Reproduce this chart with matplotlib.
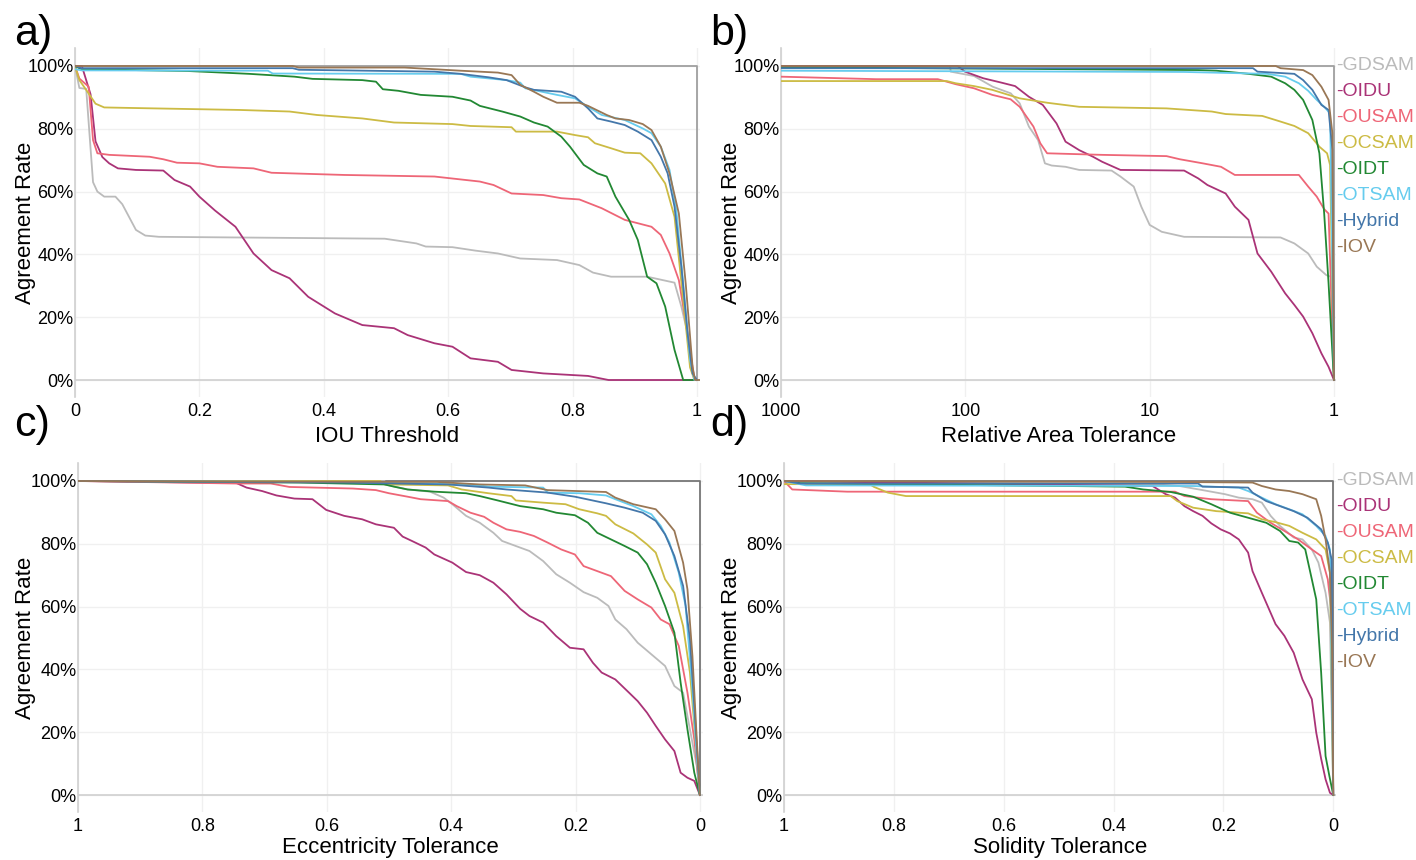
import matplotlib
matplotlib.use("Agg")
import matplotlib.pyplot as plt
import matplotlib.transforms as mtransforms
from matplotlib.ticker import FixedLocator, NullLocator

plt.rcParams['font.family'] = ['Liberation Sans', 'DejaVu Sans']

names = ["GDSAM", "OIDU", "OUSAM", "OCSAM", "OIDT", "OTSAM", "Hybrid", "IOV"]
colors = ["#BBBBBB", "#AA3377", "#EE6677", "#CCBB44", "#228833", "#66CCEE", "#4477AA", "#997755"]

# ---------------- a) IOU threshold ----------------
a_gdsam_x = [0, 0.007, 0.018, 0.029, 0.036, 0.047, 0.065, 0.076, 0.098, 0.113, 0.135, 0.498, 0.549, 0.564, 0.607, 0.644, 0.68, 0.716, 0.775, 0.811, 0.833, 0.862, 0.92, 0.964, 0.975, 0.985, 0.996, 1.0]
a_gdsam_y = [100, 93, 92.7, 63, 60, 58.4, 58.4, 56, 47.8, 46, 45.6, 45, 43.5, 42.5, 42.3, 41.2, 40.3, 38.7, 38.2, 36.6, 34.2, 32.9, 32.9, 31, 23.4, 14.9, 0, 0]
a_oidu_x = [0, 0.011, 0.025, 0.033, 0.044, 0.055, 0.069, 0.098, 0.142, 0.16, 0.185, 0.2, 0.225, 0.258, 0.287, 0.316, 0.345, 0.375, 0.418, 0.462, 0.513, 0.535, 0.578, 0.607, 0.636, 0.68, 0.702, 0.753, 0.825, 0.858, 1.0]
a_oidu_y = [100, 100, 91, 76, 71, 69, 67.4, 66.9, 66.7, 63.7, 61.6, 58.4, 54, 48.8, 40.3, 35, 32.4, 26.5, 21.2, 17.5, 16.5, 14.3, 11.7, 10.6, 6.9, 5.8, 3.2, 2.1, 1.3, 0, 0]
a_ousam_x = [0, 0.007, 0.022, 0.029, 0.036, 0.055, 0.12, 0.142, 0.164, 0.2, 0.229, 0.287, 0.316, 0.433, 0.578, 0.651, 0.673, 0.702, 0.753, 0.782, 0.811, 0.847, 0.884, 0.927, 0.942, 0.956, 0.971, 0.985, 0.996, 1.0]
a_ousam_y = [100, 96, 93.4, 76.4, 72.2, 71.7, 71.1, 70.3, 69.2, 69, 67.9, 67.4, 66, 65.3, 64.8, 63.2, 62.1, 59.4, 58.9, 57.9, 57.5, 54.7, 51, 48.8, 46.2, 40.3, 31.8, 14.9, 0, 0]
a_ocsam_x = [0, 0.007, 0.018, 0.033, 0.047, 0.127, 0.265, 0.345, 0.389, 0.462, 0.513, 0.607, 0.636, 0.702, 0.709, 0.775, 0.804, 0.825, 0.836, 0.862, 0.884, 0.909, 0.927, 0.949, 0.964, 0.978, 0.989, 0.996, 1.0]
a_ocsam_y = [100, 95.5, 92.4, 88, 86.8, 86.5, 86, 85.5, 84.4, 83.3, 82, 81.5, 80.9, 80.5, 79.1, 79.1, 78, 77.3, 75.4, 73.8, 72.4, 72.2, 69, 62.6, 52, 25.5, 4, 0, 0]
a_oidt_x = [0, 0.01, 0.182, 0.28, 0.353, 0.382, 0.462, 0.484, 0.495, 0.52, 0.556, 0.607, 0.636, 0.651, 0.687, 0.716, 0.738, 0.76, 0.782, 0.796, 0.818, 0.84, 0.855, 0.869, 0.891, 0.905, 0.92, 0.935, 0.949, 0.964, 0.978, 1.0]
a_oidt_y = [100, 99, 98.4, 97.5, 96.6, 95.9, 95.5, 95, 92.6, 92.1, 90.8, 90.2, 89, 87.3, 85.5, 83.9, 82, 80.7, 77.5, 74.3, 68.5, 65.8, 64.8, 58.4, 51, 44.6, 32.9, 30.8, 23.4, 9.6, 0, 0]
a_otsam_x = [0, 0.011, 0.31, 0.318, 0.62, 0.636, 0.694, 0.716, 0.724, 0.775, 0.804, 0.825, 0.847, 0.884, 0.913, 0.927, 0.942, 0.956, 0.967, 0.978, 0.989, 0.996, 1.0]
a_otsam_y = [99, 98.6, 98.5, 97.6, 97.5, 96.6, 95.5, 94.7, 92.9, 90.8, 89.7, 87, 84.4, 82.8, 80.1, 78.6, 74.3, 66.9, 54, 30.8, 6.4, 0, 0]
a_hybrid_x = [0, 0.01, 0.35, 0.36, 0.578, 0.62, 0.665, 0.694, 0.724, 0.738, 0.782, 0.804, 0.825, 0.84, 0.862, 0.884, 0.905, 0.927, 0.942, 0.953, 0.964, 0.975, 0.985, 0.993, 1.0]
a_hybrid_y = [100, 99.3, 99.3, 98.8, 98.2, 97.5, 96.4, 95.5, 93.2, 92.4, 91.8, 90.2, 86.5, 83.3, 82.3, 81.2, 79.1, 76.4, 71.1, 65.8, 55.2, 36.1, 14.9, 2.1, 0]
a_iov_x = [0, 0.35, 0.36, 0.53, 0.62, 0.68, 0.702, 0.716, 0.738, 0.753, 0.775, 0.811, 0.825, 0.855, 0.869, 0.891, 0.913, 0.927, 0.942, 0.956, 0.971, 0.982, 0.993, 0.997, 1.005]
a_iov_y = [100, 100, 99.5, 99.5, 98.5, 97.9, 97.1, 94, 91.8, 90.2, 88.3, 88.3, 87.3, 84.4, 83.3, 82.8, 81.5, 79.6, 74.3, 65.8, 53, 30.8, 4.2, 0, 0]

# ---------------- b) relative area tolerance (log) ----------------
b_gdsam_x = [1000, 121, 120, 89.7, 71, 56.7, 50.7, 45.2, 40.3, 37, 34, 28.6, 24.1, 16.1, 14.4, 12.2, 11.1, 10, 8.6, 6.5, 1.95, 1.64, 1.38, 1.24, 1.1, 1.04, 1.0]
b_gdsam_y = [100, 100, 98.2, 96.8, 93.4, 91.3, 88.1, 80.7, 76.4, 69, 68.3, 67.9, 66.9, 66.7, 64.8, 61.6, 55.2, 49.4, 47.2, 45.6, 45.4, 43.5, 40.3, 36.1, 33.4, 32.9, 0]
b_oidu_x = [1000, 110, 100.5, 80, 63.7, 53.7, 45.2, 38, 32, 28.6, 24.1, 20.3, 18.1, 14.4, 6.5, 5.45, 4.86, 3.87, 3.45, 2.91, 2.6, 2.19, 1.84, 1.64, 1.47, 1.31, 1.17, 1.07, 1.0]
b_oidu_y = [100, 100, 98.2, 96.1, 94.7, 93.6, 90.2, 87.6, 81.7, 75.9, 73.2, 71.1, 69.5, 66.9, 66.7, 64.2, 62.1, 59.4, 55.2, 51, 40.3, 34.5, 27.6, 23.9, 20.2, 14.9, 8.5, 4.2, 0]
b_ousam_x = [1000, 305, 141, 112.7, 89.7, 71.4, 56.8, 50.7, 42.7, 39.2, 36, 18.1, 8.1, 6.86, 5.15, 4.1, 3.45, 1.55, 1.38, 1.24, 1.13, 1.07, 1.0]
b_ousam_y = [96.6, 95.8, 95.8, 94.2, 92.9, 90.8, 89.4, 87, 80.7, 75.4, 72.2, 71.7, 71.3, 70.3, 69, 67.9, 65.3, 65.3, 61.6, 58.4, 54.4, 53, 0]
b_ocsam_x = [1000, 126, 112.7, 89.7, 71.4, 50.7, 36, 24.1, 8.1, 4.6, 3.87, 2.45, 1.95, 1.64, 1.38, 1.2, 1.09, 1.05, 1.0]
b_ocsam_y = [95.2, 95.2, 94.5, 93.6, 92.4, 89.7, 88.3, 87, 86.5, 85.5, 84.7, 84.1, 82.3, 80.9, 78.6, 74.3, 72.2, 68.5, 0]
b_oidt_x = [1000, 5.46, 4.34, 2.91, 2.19, 1.84, 1.64, 1.47, 1.31, 1.2, 1.13, 1.07, 1.01, 1.0]
b_oidt_y = [99.6, 98.7, 98.5, 97.5, 96.6, 94.5, 92.4, 89.2, 82.8, 72.2, 53, 30.8, 4.2, 0]
b_otsam_x = [1000, 6.5, 2.3, 1.84, 1.55, 1.38, 1.24, 1.13, 1.05, 1.0]
b_otsam_y = [98.5, 98.1, 97.5, 96.6, 94.5, 92.1, 89.2, 87, 84.9, 0]
b_hybrid_x = [1000, 2.75, 2.6, 1.64, 1.47, 1.31, 1.17, 1.07, 1.02, 1.0]
b_hybrid_y = [99.3, 99.3, 98.2, 97.5, 95.5, 92.4, 87.6, 86, 73.3, 0]
b_iov_x = [1000, 2.07, 1.95, 1.47, 1.31, 1.17, 1.07, 1.02, 1.0]
b_iov_y = [100, 100, 99.3, 98.7, 97.1, 93.4, 89.2, 78.6, 0]

# ---------------- c) eccentricity tolerance ----------------
c_gdsam_x = [1, 0.507, 0.506, 0.47, 0.434, 0.412, 0.398, 0.376, 0.354, 0.332, 0.318, 0.296, 0.274, 0.252, 0.231, 0.209, 0.187, 0.165, 0.147, 0.136, 0.118, 0.1, 0.078, 0.056, 0.041, 0.027, 0.016, 0.005, 0]
c_gdsam_y = [100, 100, 98.9, 97.3, 96.6, 94.7, 92.6, 88.9, 86.7, 83.5, 80.9, 79.3, 77.7, 74.5, 70.3, 67.6, 64.6, 62.8, 60.2, 55.9, 52.8, 48.5, 44.8, 41.1, 34.7, 32.6, 20.9, 9.2, 0]
c_oidu_x = [1, 0.8, 0.747, 0.729, 0.704, 0.681, 0.652, 0.623, 0.601, 0.572, 0.543, 0.521, 0.492, 0.478, 0.463, 0.441, 0.427, 0.398, 0.376, 0.354, 0.332, 0.311, 0.289, 0.274, 0.252, 0.231, 0.209, 0.187, 0.172, 0.158, 0.136, 0.114, 0.1, 0.085, 0.071, 0.056, 0.041, 0.031, 0.02, 0.009, 0]
c_oidu_y = [100, 99.5, 99.5, 97.9, 96.8, 95.4, 94.4, 94.2, 90.8, 88.9, 87.8, 86.2, 85.1, 82.3, 80.9, 78.8, 76.6, 74, 71, 70, 67.6, 63.9, 59.3, 57, 54.9, 50.6, 46.9, 46.4, 42.1, 39, 36.8, 32.6, 29.9, 26.2, 22, 17.7, 14, 7.1, 5.5, 4.5, 0]
c_ousam_x = [1, 0.747, 0.69, 0.66, 0.558, 0.521, 0.5, 0.47, 0.449, 0.405, 0.391, 0.369, 0.347, 0.332, 0.311, 0.289, 0.267, 0.245, 0.223, 0.201, 0.187, 0.165, 0.143, 0.121, 0.1, 0.078, 0.063, 0.049, 0.034, 0.02, 0.009, 0]
c_ousam_y = [100, 99.2, 99.2, 98.1, 97.6, 97.1, 96.1, 95, 94.2, 93.6, 92, 89.9, 88.6, 86.7, 84.6, 83.8, 82.5, 80.4, 78.2, 76.6, 72.9, 71.3, 69.7, 65, 62.3, 59.7, 55.9, 54.4, 47.5, 32.6, 17.7, 0]
c_ocsam_x = [1, 0.514, 0.507, 0.405, 0.383, 0.34, 0.303, 0.296, 0.252, 0.216, 0.194, 0.165, 0.151, 0.136, 0.107, 0.085, 0.071, 0.056, 0.041, 0.027, 0.016, 0.005, 0]
c_ocsam_y = [100, 100, 98.9, 98.6, 97.3, 96.1, 95.2, 93.8, 93.1, 92.6, 91, 89.7, 88.9, 86.2, 83.3, 79.8, 77.2, 68.7, 64.4, 53.8, 39, 12.4, 0]
c_oidt_x = [1, 0.645, 0.507, 0.492, 0.47, 0.427, 0.376, 0.354, 0.325, 0.289, 0.252, 0.231, 0.201, 0.18, 0.165, 0.143, 0.121, 0.1, 0.085, 0.071, 0.056, 0.041, 0.031, 0.02, 0.009, 0]
c_oidt_y = [100, 99.5, 98.9, 98.2, 97.3, 96.6, 96.1, 95.2, 93.8, 92, 91, 89.9, 89.1, 86.7, 83.5, 81.4, 79.3, 77.2, 73.5, 67.6, 60.2, 51.7, 35.8, 20.9, 7.1, 0]
c_otsam_x = [1, 0.572, 0.427, 0.354, 0.34, 0.252, 0.245, 0.194, 0.151, 0.136, 0.107, 0.078, 0.063, 0.049, 0.034, 0.023, 0.012, 0.005, 0]
c_otsam_y = [100, 99.7, 99.2, 98.6, 98.2, 97.9, 96.3, 96.1, 95.4, 94.2, 92, 89.4, 85.7, 80.4, 70.8, 60.2, 33.7, 12.4, 0]
c_hybrid_x = [1, 0.572, 0.405, 0.34, 0.311, 0.245, 0.201, 0.151, 0.121, 0.092, 0.071, 0.056, 0.041, 0.027, 0.016, 0.009, 0]
c_hybrid_y = [100, 99.5, 98.9, 97.9, 97.3, 96.3, 95, 92.9, 91.5, 89.9, 87.3, 83, 76.1, 66.6, 49.6, 28.3, 0]
c_iov_x = [1, 0.423, 0.354, 0.281, 0.245, 0.151, 0.136, 0.107, 0.071, 0.056, 0.041, 0.027, 0.02, 0.012, 0.005, 0]
c_iov_y = [100, 99.7, 98.9, 98.6, 97.1, 96.5, 94.7, 92.6, 91, 87.8, 84.1, 74, 65.5, 44.3, 17.7, 0]

# ---------------- d) solidity tolerance ----------------
d_gdsam_x = [1, 0.321, 0.28, 0.238, 0.197, 0.172, 0.147, 0.13, 0.114, 0.097, 0.072, 0.056, 0.039, 0.027, 0.014, 0.006, 0]
d_gdsam_y = [100, 98.9, 98.4, 97.1, 95.8, 94.7, 94.2, 93.1, 88.9, 85.7, 82, 81.4, 78.2, 74, 64.4, 54.9, 0]
d_oidu_x = [1, 0.329, 0.305, 0.288, 0.271, 0.255, 0.238, 0.222, 0.205, 0.188, 0.172, 0.155, 0.147, 0.13, 0.114, 0.105, 0.089, 0.072, 0.056, 0.039, 0.031, 0.022, 0.014, 0.006, 0]
d_oidu_y = [100, 98.4, 95.8, 94.7, 92, 90.4, 88.9, 86.5, 84.6, 83.3, 81.4, 77.2, 71.3, 64.4, 58, 54.4, 50.7, 45.3, 36.8, 30.5, 19.9, 11.5, 5, 0.7, 0]
d_ousam_x = [1, 0.985, 0.885, 0.288, 0.271, 0.222, 0.155, 0.139, 0.114, 0.089, 0.064, 0.039, 0.022, 0.01, 0.003, 0]
d_ousam_y = [100, 97.3, 96.6, 96.6, 95.2, 94.2, 93.6, 89.9, 86.7, 84.1, 81.4, 78.2, 76.1, 68.7, 58, 0]
d_ocsam_x = [1, 0.844, 0.836, 0.811, 0.778, 0.296, 0.284, 0.255, 0.213, 0.155, 0.13, 0.105, 0.08, 0.056, 0.031, 0.014, 0.006, 0]
d_ocsam_y = [99, 99, 98.1, 96.3, 95.2, 95.2, 93.6, 91.5, 90.4, 89.7, 87.8, 86.9, 85.7, 83.5, 81.4, 78.2, 70.8, 0]
d_oidt_x = [1, 0.97, 0.379, 0.346, 0.296, 0.255, 0.222, 0.188, 0.155, 0.122, 0.097, 0.08, 0.064, 0.051, 0.039, 0.031, 0.022, 0.014, 0.007, 0]
d_oidt_y = [100, 99.3, 98.2, 97.3, 96.5, 95, 92.6, 89.9, 88.3, 86.7, 84.1, 80.9, 80.4, 78.2, 68.7, 62.3, 38.9, 12.4, 6, 0]
d_otsam_x = [1, 0.96, 0.255, 0.172, 0.155, 0.13, 0.105, 0.08, 0.056, 0.031, 0.014, 0.006, 0]
d_otsam_y = [100, 98.6, 98.4, 97.9, 96.8, 94.7, 92.6, 91, 89.4, 85.7, 82.5, 78.2, 0]
d_hybrid_x = [1, 0.97, 0.246, 0.238, 0.155, 0.147, 0.122, 0.097, 0.072, 0.047, 0.022, 0.01, 0.003, 0]
d_hybrid_y = [100, 99.2, 99.2, 98.2, 97.9, 96.3, 93.6, 92, 90.4, 88.3, 84.6, 80.4, 75.1, 0]
d_iov_x = [1, 0.296, 0.147, 0.13, 0.105, 0.08, 0.056, 0.031, 0.022, 0.014, 0.006, 0.002, 0]
d_iov_y = [100, 99.7, 99.5, 98.4, 97.3, 96.8, 95.8, 94.2, 88.9, 81.4, 70.8, 44.3, 0]

a_series = [(a_gdsam_x, a_gdsam_y), (a_oidu_x, a_oidu_y), (a_ousam_x, a_ousam_y), (a_ocsam_x, a_ocsam_y),
            (a_oidt_x, a_oidt_y), (a_otsam_x, a_otsam_y), (a_hybrid_x, a_hybrid_y), (a_iov_x, a_iov_y)]
b_series = [(b_gdsam_x, b_gdsam_y), (b_oidu_x, b_oidu_y), (b_ousam_x, b_ousam_y), (b_ocsam_x, b_ocsam_y),
            (b_oidt_x, b_oidt_y), (b_otsam_x, b_otsam_y), (b_hybrid_x, b_hybrid_y), (b_iov_x, b_iov_y)]
c_series = [(c_gdsam_x, c_gdsam_y), (c_oidu_x, c_oidu_y), (c_ousam_x, c_ousam_y), (c_ocsam_x, c_ocsam_y),
            (c_oidt_x, c_oidt_y), (c_otsam_x, c_otsam_y), (c_hybrid_x, c_hybrid_y), (c_iov_x, c_iov_y)]
d_series = [(d_gdsam_x, d_gdsam_y), (d_oidu_x, d_oidu_y), (d_ousam_x, d_ousam_y), (d_ocsam_x, d_ocsam_y),
            (d_oidt_x, d_oidt_y), (d_otsam_x, d_otsam_y), (d_hybrid_x, d_hybrid_y), (d_iov_x, d_iov_y)]

W, H = 1416, 860
fig = plt.figure(figsize=(W / 100, H / 100), dpi=100)


def px_axes(left, right, top, bottom):
    return fig.add_axes([left / W, 1 - bottom / H, (right - left) / W, (bottom - top) / H])


def style(ax, xlabel, xticks, xticklabels, ref_x, ref_color, left_px, width_px, xpad):
    ax.set_ylim(-5.41, 105.73)
    for s in ["top", "right", "bottom"]:
        ax.spines[s].set_visible(False)
    ax.spines["left"].set_color("#d0d0d0")
    ax.spines["left"].set_linewidth(1.2)
    ax.yaxis.set_major_locator(FixedLocator([0, 20, 40, 60, 80, 100]))
    ax.set_yticklabels(["0%", "20%", "40%", "60%", "80%", "100%"])
    ax.xaxis.set_major_locator(FixedLocator(xticks))
    ax.xaxis.set_minor_locator(NullLocator())
    ax.set_xticklabels(xticklabels)
    ax.tick_params(length=0, labelsize=13, pad=4)
    ax.tick_params(axis="y", pad=1)
    ax.grid(True, color="#f0f0f0", lw=1)
    ax.set_axisbelow(True)
    ax.axhline(0, color="#d0d0d0", lw=1.2, zorder=1)
    ax.set_xlabel(xlabel, fontsize=16, labelpad=xpad)
    ax.set_ylabel("Agreement Rate", fontsize=16)
    ax.yaxis.set_label_coords((36 - left_px) / width_px, 0.5)
    # reference (ideal) curve
    ax.plot([ref_x[0], ref_x[1], ref_x[1]], [100, 100, 0], color=ref_color, lw=1.3, zorder=2)


def draw(ax, series):
    for (xs, ys), c in zip(series, colors):
        ax.plot(xs, ys, color=c, lw=1.3, zorder=3)


def legend(ax):
    trans = mtransforms.blended_transform_factory(ax.transAxes, ax.transData)
    for i, (n, c) in enumerate(zip(names, colors)):
        ax.text(1.0, 100.3 - i * 8.28, "-" + n, color=c, fontsize=14,
                transform=trans, ha="left", va="center", clip_on=False)


# a)
ax_a = px_axes(75, 700, 48, 397)
style(ax_a, "IOU Threshold", [0, 0.2, 0.4, 0.6, 0.8, 1], ["0", "0.2", "0.4", "0.6", "0.8", "1"],
      (0, 1), "#a0a0a0", 75, 625, 5)
draw(ax_a, a_series)
ax_a.set_xlim(0, 1.005)

# b)
ax_b = px_axes(781, 1336, 48, 397)
ax_b.set_xscale("log")
style(ax_b, "Relative Area Tolerance", [1000, 100, 10, 1], ["1000", "100", "10", "1"],
      (1000, 1), "#a0a0a0", 781 - 706, 555, 5)
draw(ax_b, b_series)
ax_b.set_xlim(1000, 0.975)
legend(ax_b)

# c)
ax_c = px_axes(78, 703, 463, 812)
style(ax_c, "Eccentricity Tolerance", [1, 0.8, 0.6, 0.4, 0.2, 0], ["1", "0.8", "0.6", "0.4", "0.2", "0"],
      (1, 0), "#777777", 78, 625, 2)
draw(ax_c, c_series)
ax_c.set_xlim(1, -0.005)

# d)
ax_d = px_axes(784, 1336, 463, 812)
style(ax_d, "Solidity Tolerance", [1, 0.8, 0.6, 0.4, 0.2, 0], ["1", "0.8", "0.6", "0.4", "0.2", "0"],
      (1, 0), "#777777", 784 - 706, 552, 2)
draw(ax_d, d_series)
ax_d.set_xlim(1, -0.005)
legend(ax_d)

for lab, x, y in [("a)", 14, 34), ("b)", 710, 34), ("c)", 14, 425), ("d)", 710, 425)]:
    fig.text(x / W, 1 - y / H, lab, fontsize=31, ha="left", va="center")

fig.savefig("out.png", dpi=100)
